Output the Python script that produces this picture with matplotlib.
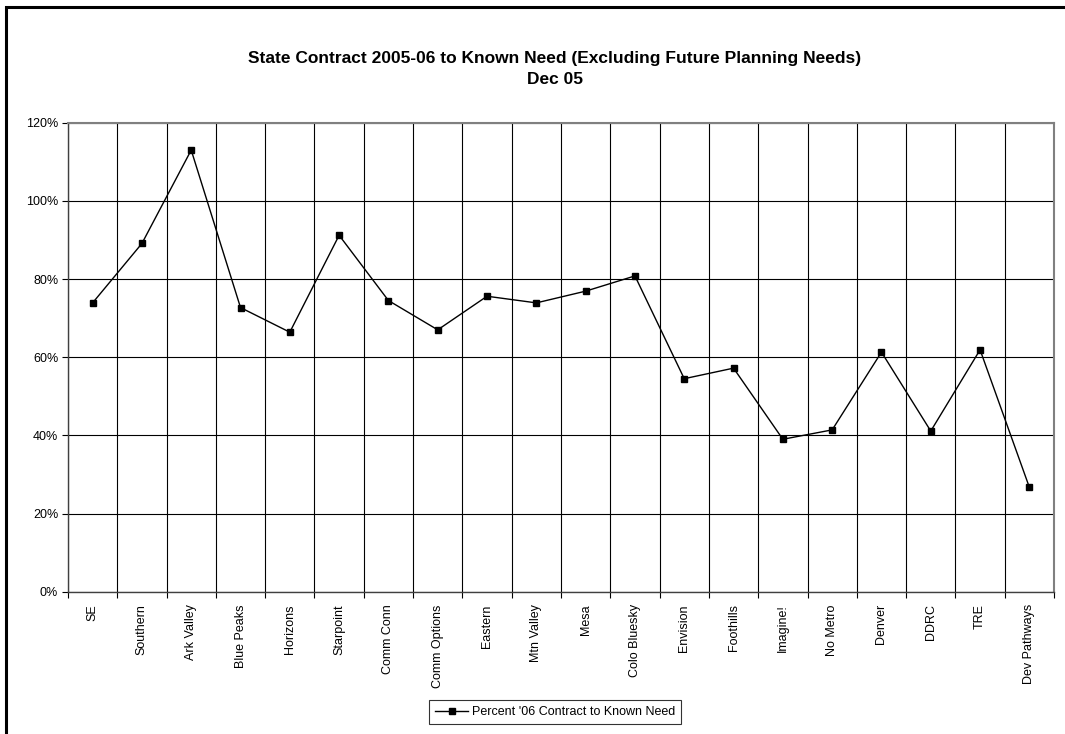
import matplotlib
matplotlib.use("Agg")
import matplotlib.pyplot as plt
from matplotlib.patches import Rectangle
from matplotlib.ticker import FixedLocator, PercentFormatter

plt.rcParams["font.family"] = ["Liberation Sans", "DejaVu Sans"]

programs = ["SE", "Southern", "Ark Valley", "Blue Peaks", "Horizons", "Starpoint",
            "Comm Conn", "Comm Options", "Eastern", "Mtn Valley", "Mesa",
            "Colo Bluesky", "Envision", "Foothills", "Imagine!", "No Metro",
            "Denver", "DDRC", "TRE", "Dev Pathways"]
pct_of_need = [73.9, 89.1, 113.0, 72.7, 66.4, 91.2, 74.5, 67.0, 75.6, 73.9,
               76.9, 80.8, 54.5, 57.2, 39.0, 41.4, 61.3, 41.1, 61.9, 26.7]
y_ticks = [0, 20, 40, 60, 80, 100, 120]

fig = plt.figure(figsize=(10.65, 7.34), dpi=100)
ax = fig.add_axes([0.0638, 0.1939, 0.9259, 0.6389])

# outer chart frame (only top and left edges fall inside the image)
fig.patches.append(Rectangle((5.5 / 1065, -0.05), 1.2, 1 - 7 / 734 + 0.05,
                             transform=fig.transFigure, fill=False,
                             edgecolor="black", linewidth=2.2, clip_on=False))

x = list(range(len(programs)))
ax.plot(x, pct_of_need, color="black", linewidth=1.0, marker="s",
        markersize=4, markerfacecolor="black", markeredgecolor="black",
        label="Percent '06 Contract to Known Need", zorder=3)

ax.set_xlim(-0.5, len(programs) - 0.5)
ax.set_ylim(0, 120)

# category boundaries get tick marks and grid, names sit between them
bounds = [i - 0.5 for i in range(len(programs) + 1)]
ax.xaxis.set_major_locator(FixedLocator(bounds))
ax.xaxis.set_minor_locator(FixedLocator(x))
ax.set_xticklabels([""] * len(bounds))
ax.set_xticklabels(programs, minor=True, rotation=90, fontsize=9)
ax.tick_params(axis="x", which="major", length=4, direction="out", width=0.8)
ax.tick_params(axis="x", which="minor", length=0, pad=9)

ax.set_yticks(y_ticks)
ax.yaxis.set_major_formatter(PercentFormatter(decimals=0))
ax.tick_params(axis="y", length=4, direction="out", width=0.8, labelsize=9, pad=3)

ax.grid(True, which="major", color="black", linewidth=0.8)
ax.set_axisbelow(True)

for side in ("top", "right"):
    ax.spines[side].set_color("#808080")
    ax.spines[side].set_linewidth(1.5)
for side in ("left", "bottom"):
    ax.spines[side].set_color("#404040")
    ax.spines[side].set_linewidth(1.0)

fig.text(0.521, 1 - 58 / 734,
         "State Contract 2005-06 to Known Need (Excluding Future Planning Needs)",
         ha="center", va="center", fontsize=12.5, fontweight="bold")
fig.text(0.521, 1 - 79 / 734, "Dec 05", ha="center", va="center",
         fontsize=12.5, fontweight="bold")

leg = fig.legend(loc="center", bbox_to_anchor=(555 / 1065, 1 - 712 / 734),
                 fontsize=9, frameon=True, fancybox=False, edgecolor="black",
                 handlelength=2.6, borderpad=0.5, handletextpad=0.3)
leg.get_frame().set_linewidth(0.8)

fig.savefig("out.png", dpi=100)
